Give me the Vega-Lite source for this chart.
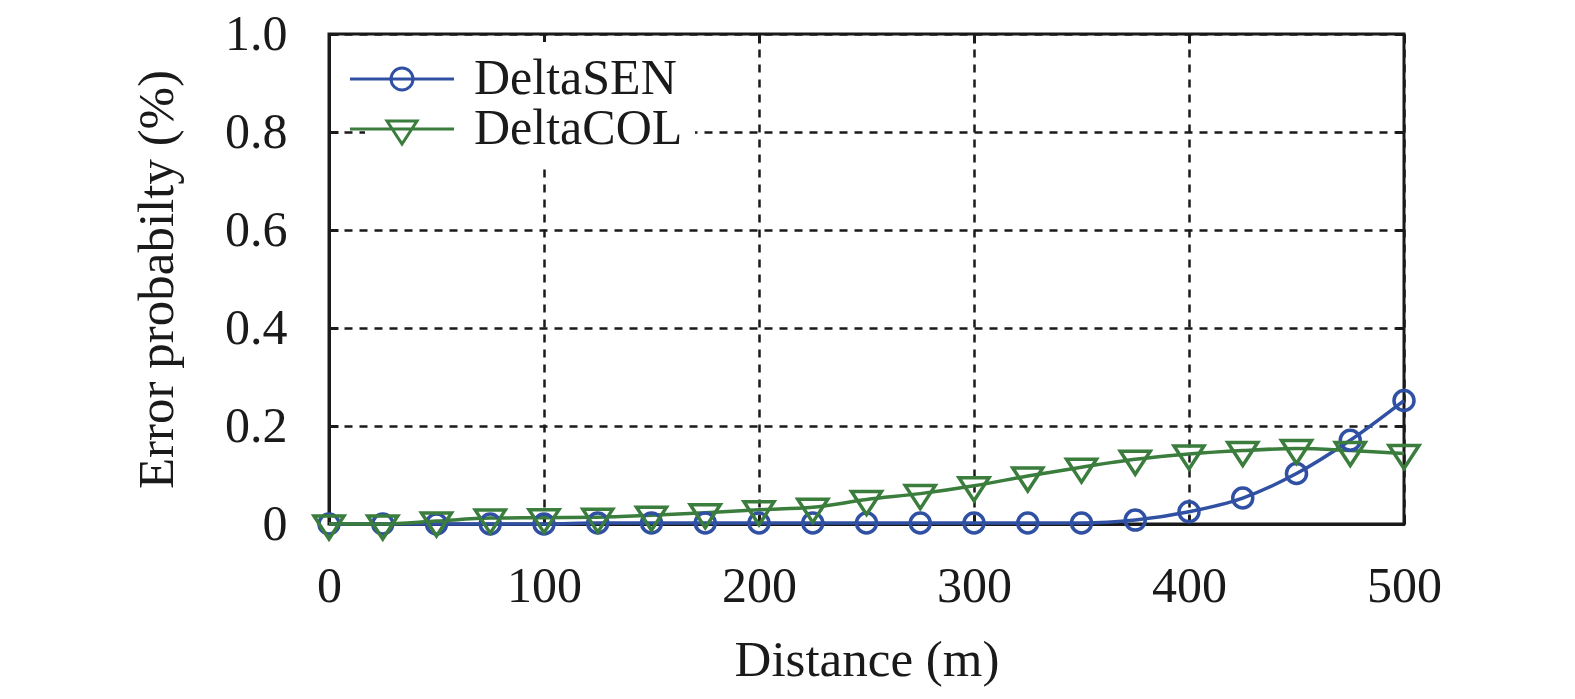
{
  "$schema": "https://vega.github.io/schema/vega-lite/v6.json",
  "width": 1075,
  "height": 490,
  "autosize": {"type": "none"},
  "padding": {"left": 329, "top": 34, "right": 171, "bottom": 175},
  "background": "white",
  "config": {
    "font": "Liberation Serif",
    "view": {"stroke": "#1a1a1a", "strokeWidth": 3},
    "axis": {
      "labelFont": "Liberation Serif",
      "titleFont": "Liberation Serif",
      "labelFontSize": 50,
      "titleFontSize": 51,
      "titleFontWeight": "normal",
      "labelColor": "#1a1a1a",
      "titleColor": "#1a1a1a",
      "domainColor": "#1a1a1a",
      "domainWidth": 3,
      "tickColor": "#1a1a1a",
      "tickWidth": 3,
      "tickSize": -9,
      "labelFlush": false,
      "gridColor": "#1a1a1a",
      "gridWidth": 2.5,
      "gridDash": [8, 7],
      "gridOpacity": 1
    },
    "legend": {
      "orient": "none",
      "legendX": 36,
      "legendY": 8,
      "title": null,
      "labelFont": "Liberation Serif",
      "labelFontSize": 50,
      "labelColor": "#1a1a1a",
      "labelOffset": 47,
      "labelLimit": 400,
      "symbolSize": 400,
      "symbolStrokeWidth": 3,
      "symbolOpacity": 1,
      "symbolFillColor": "transparent",
      "fillColor": "white",
      "padding": 12,
      "rowPadding": 0
    }
  },
  "data": {
    "values": [
      {"distance": 0, "series": "DeltaSEN", "error": 0},
      {"distance": 25, "series": "DeltaSEN", "error": 0},
      {"distance": 50, "series": "DeltaSEN", "error": 0},
      {"distance": 75, "series": "DeltaSEN", "error": 0},
      {"distance": 100, "series": "DeltaSEN", "error": 0},
      {"distance": 125, "series": "DeltaSEN", "error": 0.002},
      {"distance": 150, "series": "DeltaSEN", "error": 0.002},
      {"distance": 175, "series": "DeltaSEN", "error": 0.002},
      {"distance": 200, "series": "DeltaSEN", "error": 0.002},
      {"distance": 225, "series": "DeltaSEN", "error": 0.002},
      {"distance": 250, "series": "DeltaSEN", "error": 0.002},
      {"distance": 275, "series": "DeltaSEN", "error": 0.002},
      {"distance": 300, "series": "DeltaSEN", "error": 0.002},
      {"distance": 325, "series": "DeltaSEN", "error": 0.002},
      {"distance": 350, "series": "DeltaSEN", "error": 0.002},
      {"distance": 375, "series": "DeltaSEN", "error": 0.008},
      {"distance": 400, "series": "DeltaSEN", "error": 0.025},
      {"distance": 425, "series": "DeltaSEN", "error": 0.053},
      {"distance": 450, "series": "DeltaSEN", "error": 0.103},
      {"distance": 475, "series": "DeltaSEN", "error": 0.171},
      {"distance": 500, "series": "DeltaSEN", "error": 0.252},
      {"distance": 0, "series": "DeltaCOL", "error": 0},
      {"distance": 25, "series": "DeltaCOL", "error": 0},
      {"distance": 50, "series": "DeltaCOL", "error": 0.006},
      {"distance": 75, "series": "DeltaCOL", "error": 0.012},
      {"distance": 100, "series": "DeltaCOL", "error": 0.013},
      {"distance": 125, "series": "DeltaCOL", "error": 0.014},
      {"distance": 150, "series": "DeltaCOL", "error": 0.018},
      {"distance": 175, "series": "DeltaCOL", "error": 0.023},
      {"distance": 200, "series": "DeltaCOL", "error": 0.029},
      {"distance": 225, "series": "DeltaCOL", "error": 0.034},
      {"distance": 250, "series": "DeltaCOL", "error": 0.05},
      {"distance": 275, "series": "DeltaCOL", "error": 0.062},
      {"distance": 300, "series": "DeltaCOL", "error": 0.078},
      {"distance": 325, "series": "DeltaCOL", "error": 0.098},
      {"distance": 350, "series": "DeltaCOL", "error": 0.116},
      {"distance": 375, "series": "DeltaCOL", "error": 0.132},
      {"distance": 400, "series": "DeltaCOL", "error": 0.143},
      {"distance": 425, "series": "DeltaCOL", "error": 0.15},
      {"distance": 450, "series": "DeltaCOL", "error": 0.154},
      {"distance": 475, "series": "DeltaCOL", "error": 0.15},
      {"distance": 500, "series": "DeltaCOL", "error": 0.144}
    ]
  },
  "layer": [
    {
      "mark": {"type": "line", "strokeWidth": 3.5, "interpolate": "monotone"},
      "encoding": {
        "x": {
          "field": "distance", "type": "quantitative",
          "scale": {"domain": [0, 500], "nice": false},
          "axis": {"orient": "bottom", "values": [0, 100, 200, 300, 400, 500], "title": "Distance (m)", "labelPadding": 46, "titlePadding": 24}
        },
        "y": {
          "field": "error", "type": "quantitative",
          "scale": {"domain": [0, 1], "nice": false},
          "axis": {"orient": "left", "values": [0, 0.2, 0.4, 0.6, 0.8, 1], "title": "Error probabilty (%)", "labelPadding": 51, "titlePadding": 41,
            "labelExpr": "datum.value == 0 ? '0' : format(datum.value, '.1f')"}
        },
        "color": {
          "field": "series", "type": "nominal",
          "scale": {"domain": ["DeltaSEN", "DeltaCOL"], "range": ["#3050a3", "#3a7d3c"]}
        },
        "order": {"field": "distance"}
      }
    },
    {
      "transform": [{"filter": "datum.series == 'DeltaSEN'"}],
      "mark": {"type": "point", "filled": false, "strokeWidth": 3.5, "size": 400, "shape": "circle", "opacity": 1},
      "encoding": {
        "x": {
          "field": "distance", "type": "quantitative",
          "axis": {"orient": "top", "values": [0, 100, 200, 300, 400, 500], "labels": false, "grid": false, "domain": false, "title": null}
        },
        "y": {
          "field": "error", "type": "quantitative",
          "axis": {"orient": "right", "values": [0, 0.2, 0.4, 0.6, 0.8, 1], "labels": false, "grid": false, "domain": false, "title": null}
        },
        "color": {"field": "series", "type": "nominal"}
      }
    },
    {
      "transform": [{"filter": "datum.series == 'DeltaCOL'"}],
      "mark": {"type": "point", "filled": false, "strokeWidth": 3.5, "size": 400, "shape": "M-1.5,-0.8 L1.5,-0.8 L0,1.5 Z", "opacity": 1},
      "encoding": {
        "x": {"field": "distance", "type": "quantitative", "axis": null},
        "y": {"field": "error", "type": "quantitative", "axis": null},
        "color": {"field": "series", "type": "nominal"}
      }
    },
    {
      "transform": [{"filter": "datum.distance < 0"}],
      "mark": {"type": "point", "filled": false, "strokeWidth": 3, "size": 400, "opacity": 1},
      "encoding": {
        "x": {"field": "distance", "type": "quantitative", "axis": null},
        "y": {"field": "error", "type": "quantitative", "axis": null},
        "color": {"field": "series", "type": "nominal"},
        "shape": {
          "field": "series", "type": "nominal",
          "scale": {
            "domain": ["DeltaSEN", "DeltaCOL"],
            "range": [
              "M-5.2,0 L5.2,0 M-1.1,0 A1.1,1.1 0 1,0 1.1,0 A1.1,1.1 0 1,0 -1.1,0",
              "M-5.2,0 L5.2,0 M-1.5,-0.8 L1.5,-0.8 L0,1.5 Z"
            ]
          }
        }
      }
    }
  ],
  "resolve": {"axis": {"x": "independent", "y": "independent"}}
}
